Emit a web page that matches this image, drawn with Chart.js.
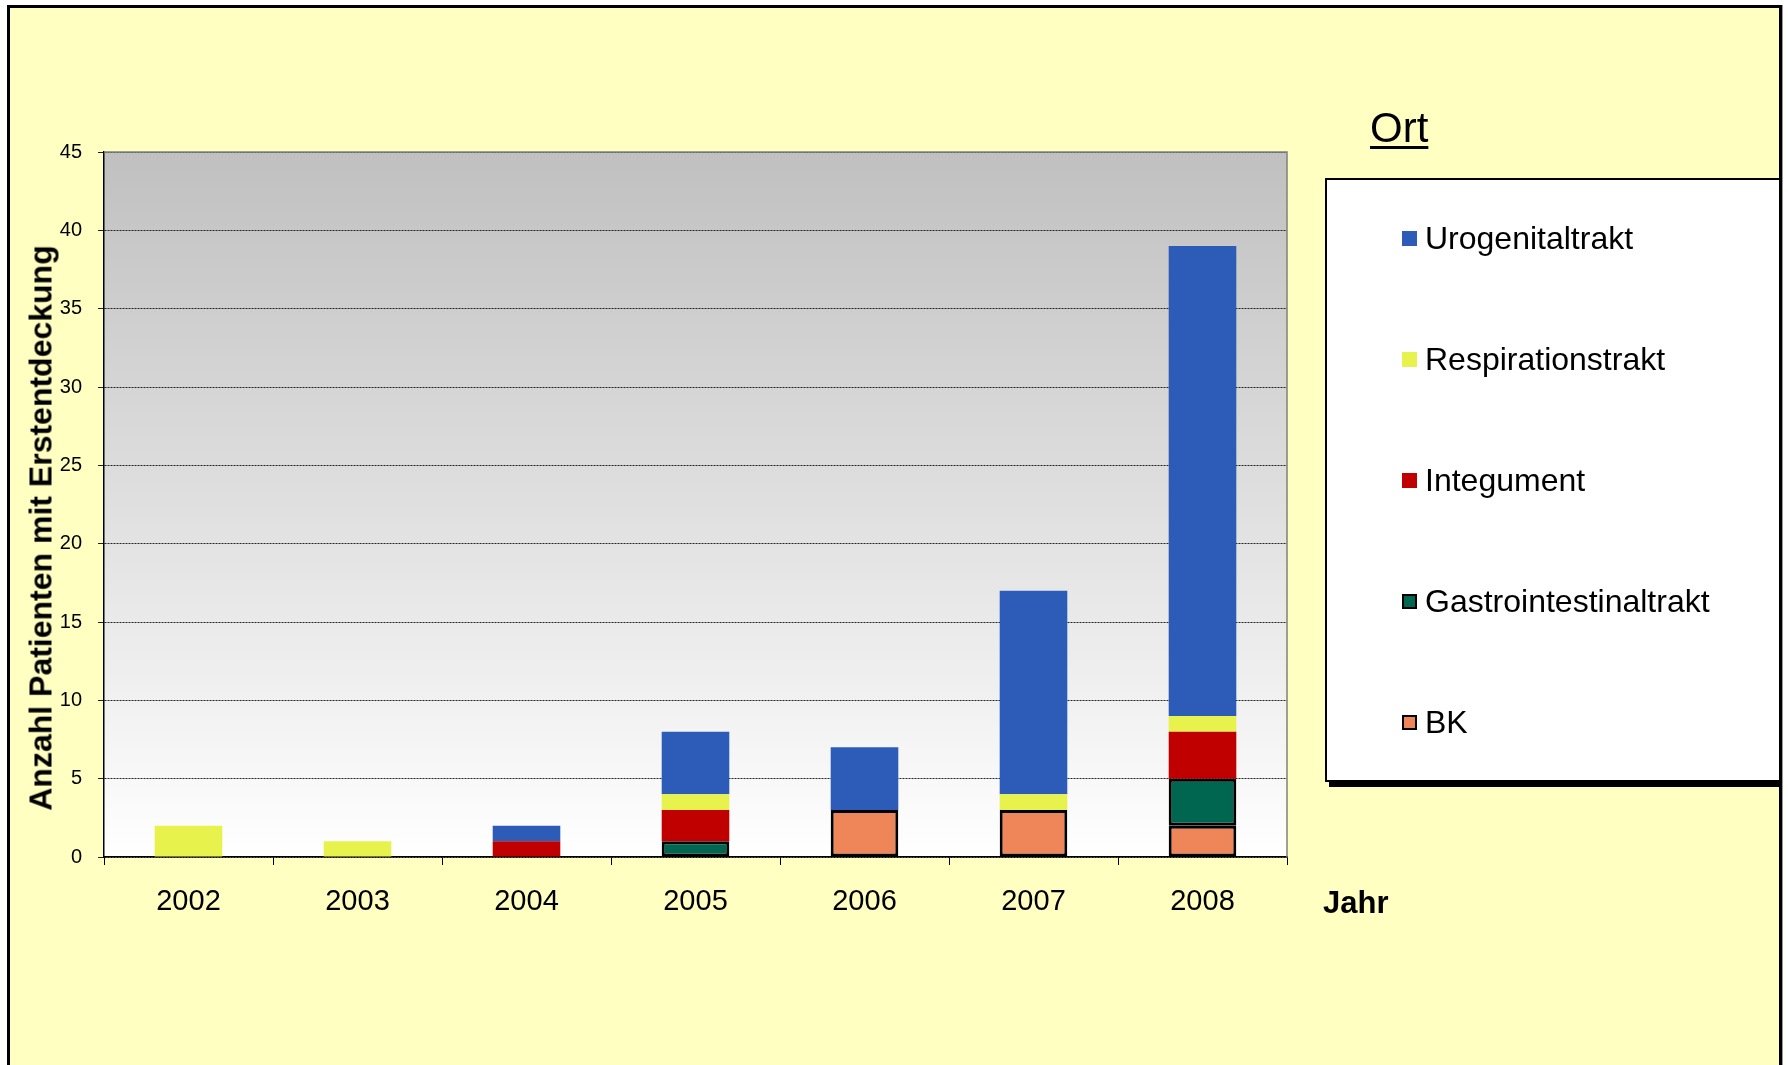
<!DOCTYPE html>
<html>
<head>
<meta charset="utf-8">
<script src="https://cdn.jsdelivr.net/npm/chart.js@4/dist/chart.umd.min.js"></script>
<style>
  body { margin: 0; background: #fff; width: 1788px; height: 1065px; overflow: hidden;
         font-family: 'Liberation Sans', Arial, sans-serif; }
  #frame { position: absolute; left: 7px; top: 5px; width: 1775px; height: 1100px;
           box-sizing: border-box; border: 3px solid #000; background: #ffffc2;
           overflow: hidden; box-shadow: 1px 0 0 #999; }
  /* children use frame coords: page x - 10, page y - 8 */
  #chart { position: absolute; left: -10px; top: -8px; }
  #ytitle { position: absolute; left: 31px; top: 520px; transform: translate(-50%, -50%) rotate(-90deg);
            font-weight: bold; font-size: 32px; white-space: nowrap; color: #000; }
  #xtitle { position: absolute; left: 1313px; top: 877px; font-weight: bold; font-size: 31px;
            line-height: 36px; color: #000; }
  #ort { position: absolute; left: 1360px; top: 96px; font-size: 42px; line-height: 48px;
         text-decoration: underline; text-decoration-thickness: 3px; text-underline-offset: 4px; }
  #legend { position: absolute; left: 1315px; top: 170px; width: 520px; height: 604px;
            box-sizing: border-box; border: 2px solid #000; background: #fff;
            box-shadow: 4px 5px 0 #000; }
  .item { position: absolute; left: 75px; height: 40px; display: flex; align-items: center;
          font-size: 32px; color: #000; white-space: nowrap; }
  .box { width: 15px; height: 15px; box-sizing: border-box; margin-right: 8px; }
</style>
</head>
<body>
<div id="frame">
  <canvas id="chart" width="1788" height="1065"></canvas>
  <div id="ytitle">Anzahl Patienten mit Erstentdeckung</div>
  <div id="xtitle">Jahr</div>
  <div id="ort">Ort</div>
  <div id="legend"></div>
</div>
<script>
var years = ['2002', '2003', '2004', '2005', '2006', '2007', '2008'];

// Patienten je Ort der Erstentdeckung (gestapelt, unten -> oben)
var bk          = [0, 0, 0, 0, 3, 3, 2];
var gastro      = [0, 0, 0, 1, 0, 0, 3];
var integument  = [0, 0, 1, 2, 0, 0, 3];
var respiration = [2, 1, 0, 1, 0, 1, 1];
var urogenital  = [0, 0, 1, 4, 4, 13, 30];

var yTicks = [0, 5, 10, 15, 20, 25, 30, 35, 40, 45];

var series = [
    { label: 'BK', data: bk, color: '#ee8659', outlined: true },
    { label: 'Gastrointestinaltrakt', data: gastro, color: '#006650', outlined: true },
    { label: 'Integument', data: integument, color: '#c00000', outlined: false },
    { label: 'Respirationstrakt', data: respiration, color: '#e8f24c', outlined: false },
    { label: 'Urogenitaltrakt', data: urogenital, color: '#2c5bb8', outlined: false }
];

// grauer Verlauf hinter der Zeichenfläche + Rahmen oben/rechts
var plotBackground = {
    id: 'plotBackground',
    beforeDraw: function(chart) {
        var a = chart.chartArea, ctx = chart.ctx;
        var g = ctx.createLinearGradient(0, a.top, 0, a.bottom);
        g.addColorStop(0, '#c0c0c0');
        g.addColorStop(1, '#ffffff');
        ctx.save();
        ctx.fillStyle = g;
        ctx.fillRect(a.left, a.top, a.right - a.left, a.bottom - a.top);
        ctx.restore();
    },
    afterDraw: function(chart) {
        var a = chart.chartArea, ctx = chart.ctx;
        ctx.save();
        ctx.strokeStyle = '#808080';
        ctx.lineWidth = 1.5;
        ctx.beginPath();
        ctx.moveTo(a.left, a.top);
        ctx.lineTo(a.right, a.top);
        ctx.lineTo(a.right, a.bottom);
        ctx.stroke();
        ctx.restore();
    }
};

var chart = new Chart(document.getElementById('chart'), {
    type: 'bar',
    data: {
        labels: years,
        datasets: series.map(function(s) {
            return {
                label: s.label,
                data: s.data,
                backgroundColor: s.color,
                borderColor: '#000',
                borderWidth: s.outlined ? 3 : 0,
                borderSkipped: false,
                barPercentage: 0.4,
                categoryPercentage: 1.0
            };
        })
    },
    options: {
        responsive: false,
        animation: false,
        devicePixelRatio: 1,
        layout: { padding: { top: 152, right: 501, bottom: 0, left: 0 } },
        plugins: { legend: { display: false }, tooltip: { enabled: false } },
        scales: {
            x: {
                stacked: true,
                afterFit: function(scale) { scale.height = 208; },
                grid: { offset: true, drawOnChartArea: false, drawTicks: true, tickLength: 8, color: '#000' },
                border: { color: '#000', width: 1.5 },
                ticks: { color: '#000', padding: 20, font: { family: 'Liberation Sans', size: 29 } }
            },
            y: {
                stacked: true,
                min: 0,
                max: 45,
                afterFit: function(scale) { scale.width = 104; },
                afterBuildTicks: function(scale) {
                    scale.ticks = yTicks.map(function(v) { return { value: v }; });
                },
                grid: { color: '#222', lineWidth: 1, tickLength: 6 },
                border: { color: '#000', width: 1.5, dash: [2, 1] },
                ticks: { color: '#000', padding: 16, font: { family: 'Liberation Sans', size: 20 } }
            }
        }
    },
    plugins: [plotBackground]
});

// Legende: oberste Serie zuerst
var legend = document.getElementById('legend');
series.slice().reverse().forEach(function(s, i) {
    var item = document.createElement('div');
    item.className = 'item';
    item.style.top = (58 + i * 121 - 20) + 'px';
    var box = document.createElement('span');
    box.className = 'box';
    box.style.background = s.color;
    if (s.outlined) box.style.border = '2px solid #000';
    item.appendChild(box);
    item.appendChild(document.createTextNode(s.label));
    legend.appendChild(item);
});
</script>
</body>
</html>
